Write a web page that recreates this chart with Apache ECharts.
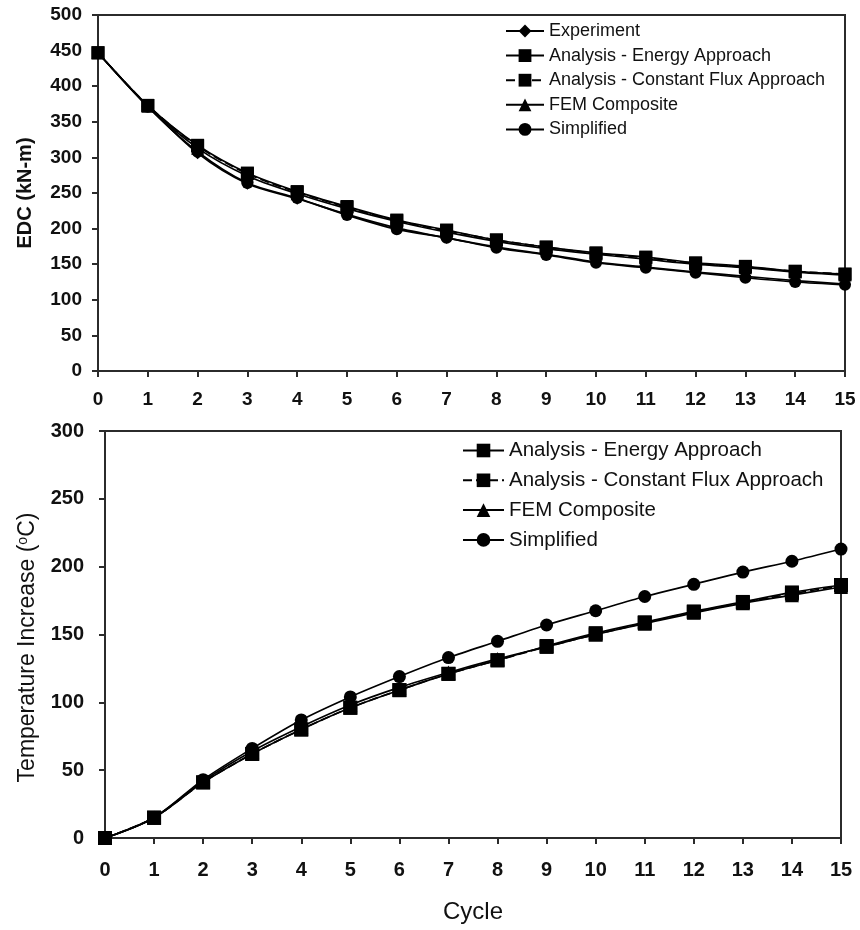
<!DOCTYPE html>
<html>
<head>
<meta charset="utf-8">
<script src="https://cdn.jsdelivr.net/npm/echarts@6/dist/echarts.min.js"></script>
<style>
  html, body { margin: 0; padding: 0; background: #fff; }
  #chart { width: 860px; height: 930px; }
</style>
</head>
<body>
<div id="chart"></div>
<script>
// Cycle numbers shared by both panels
const cycles = [0, 1, 2, 3, 4, 5, 6, 7, 8, 9, 10, 11, 12, 13, 14, 15];

// Energy dissipated per cycle, EDC (kN-m)
const edcExperiment   = [447, 372, 306, 263, 242, 220, 201, 187, 174, 164, 153, 146, 139, 133, 127, 122];
const edcEnergy       = [447, 373, 317, 278, 252, 231, 212, 198, 184, 174, 166, 160, 152, 147, 140, 136];
const edcConstantFlux = [447, 373, 316, 277, 251, 230, 211, 197, 184, 174, 165, 159, 151, 146, 140, 136];
const edcFEM          = [447, 372, 313, 274, 249, 228, 210, 195, 182, 172, 164, 157, 150, 145, 139, 135];
const edcSimplified   = [447, 371, 308, 264, 243, 219, 199, 187, 173, 163, 152, 145, 138, 131, 125, 121];

// Temperature increase (deg C)
const tEnergy       = [0, 15, 41, 62, 80, 96, 109, 121, 131, 141.5, 151, 159, 167, 174, 181, 186.5];
const tConstantFlux = [0, 15, 41, 62, 80, 96, 109, 121, 131, 141, 150, 158.5, 166.5, 173.5, 180, 186];
const tFEM          = [0, 15, 42, 64, 82, 98, 111, 122, 132, 141, 150, 158, 166, 173, 179, 185];
const tSimplified   = [0, 15, 43, 66, 87, 104, 119, 133, 145, 157, 167.5, 178, 187, 196, 204, 213];

// Axis ranges and tick steps
const edcTicks = { min: 0, max: 500, step: 50 };
const tempTicks = { min: 0, max: 300, step: 50 };
const cycleTicks = { min: 0, max: 15, step: 1 };

// Series names
const N_EXP = 'Experiment';
const N_ENERGY = 'Analysis - Energy Approach';
const N_FLUX = 'Analysis - Constant Flux Approach';
const N_FEM = 'FEM Composite';
const N_SIMP = 'Simplified';

const FONT = "'Liberation Sans', Arial, sans-serif";
const INK = '#111';
const AXIS = '#2b2b2b';

function pairs(ys) { return cycles.map((c, i) => [c, ys[i]]); }

function lineSeries(name, ys, symbol, size, idx, dashed) {
  return {
    name: name,
    type: 'line',
    xAxisIndex: idx,
    yAxisIndex: idx,
    data: pairs(ys),
    smooth: 0.3,
    symbol: symbol,
    symbolSize: size,
    showSymbol: true,
    itemStyle: { color: '#000' },
    lineStyle: { color: '#000', width: 1.7, type: dashed ? [9, 4] : 'solid' },
    emphasis: { disabled: true },
    animation: false
  };
}

function xAxisCfg(gridIdx, fontSize, margin, withName) {
  const a = {
    type: 'value', gridIndex: gridIdx,
    min: cycleTicks.min, max: cycleTicks.max, interval: cycleTicks.step,
    axisLine: { show: true, onZero: false, lineStyle: { color: AXIS, width: 2 } },
    axisTick: { show: true, inside: false, length: 6, lineStyle: { color: AXIS, width: 2 } },
    axisLabel: { color: INK, fontFamily: FONT, fontWeight: 'bold', fontSize: fontSize, margin: margin },
    splitLine: { show: false }
  };
  if (withName) {
    a.name = 'Cycle';
    a.nameLocation = 'middle';
    a.nameGap = 62;
    a.nameTextStyle = { color: INK, fontFamily: FONT, fontSize: 24 };
  }
  return a;
}

function yAxisCfg(gridIdx, ticks, fontSize, margin, name, nameGap, nameStyle) {
  return {
    type: 'value', gridIndex: gridIdx,
    min: ticks.min, max: ticks.max, interval: ticks.step,
    axisLine: { show: true, onZero: false, lineStyle: { color: AXIS, width: 2 } },
    axisTick: { show: true, inside: false, length: 6, lineStyle: { color: AXIS, width: 2 } },
    axisLabel: { color: INK, fontFamily: FONT, fontWeight: 'bold', fontSize: fontSize, margin: margin },
    splitLine: { show: false },
    name: name,
    nameLocation: 'middle',
    nameRotate: 90,
    nameGap: nameGap,
    nameTextStyle: nameStyle
  };
}

const chart = echarts.init(document.getElementById('chart'), null, { renderer: 'canvas' });

chart.setOption({
  backgroundColor: '#fff',
  animation: false,
  grid: [
    { left: 98, right: 15, top: 15, bottom: 559, show: true, borderColor: AXIS, borderWidth: 2, containLabel: false },
    { left: 105, right: 19, top: 431, bottom: 92, show: true, borderColor: AXIS, borderWidth: 2, containLabel: false }
  ],
  xAxis: [
    xAxisCfg(0, 19, 19, false),
    xAxisCfg(1, 20, 22, true)
  ],
  yAxis: [
    yAxisCfg(0, edcTicks, 19, 16, 'EDC (kN-m)', 63,
      { color: INK, fontFamily: FONT, fontWeight: 'bold', fontSize: 20 }),
    yAxisCfg(1, tempTicks, 20, 21, 'Temperature Increase ({sup|o}C)', 66,
      { color: INK, fontFamily: FONT, fontSize: 23, padding: [0, 26, 0, 0],
        rich: { sup: { fontFamily: FONT, fontSize: 14, verticalAlign: 'top', color: INK } } })
  ],
  legend: [
    {
      orient: 'vertical', left: 505, top: 22, padding: 0,
      itemWidth: 38, itemHeight: 16, itemGap: 6.6,
      textStyle: { color: INK, fontFamily: FONT, fontSize: 18 },
      data: [N_EXP, N_ENERGY, N_FLUX, N_FEM, N_SIMP],
      selectedMode: false
    },
    {
      orient: 'vertical', left: 462, top: 440, padding: 0,
      itemWidth: 41, itemHeight: 17, itemGap: 8.8,
      textStyle: { color: INK, fontFamily: FONT, fontSize: 20.5 },
      data: [N_ENERGY, N_FLUX, N_FEM, N_SIMP],
      selectedMode: false
    }
  ],
  series: [
    lineSeries(N_EXP, edcExperiment, 'diamond', 12, 0, false),
    lineSeries(N_ENERGY, edcEnergy, 'rect', 13, 0, false),
    lineSeries(N_FLUX, edcConstantFlux, 'rect', 13, 0, true),
    lineSeries(N_FEM, edcFEM, 'triangle', 13, 0, false),
    lineSeries(N_SIMP, edcSimplified, 'circle', 12, 0, false),

    lineSeries(N_ENERGY, tEnergy, 'rect', 14, 1, false),
    lineSeries(N_FLUX, tConstantFlux, 'rect', 14, 1, true),
    lineSeries(N_FEM, tFEM, 'triangle', 14, 1, false),
    lineSeries(N_SIMP, tSimplified, 'circle', 13, 1, false)
  ]
});
</script>
</body>
</html>
